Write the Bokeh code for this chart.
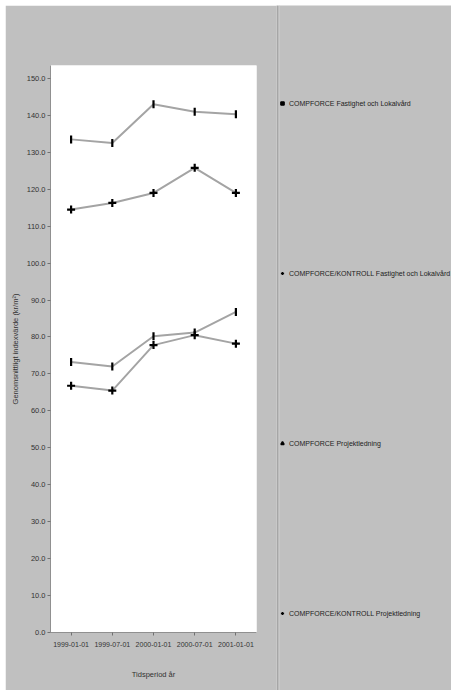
from bokeh.plotting import figure
from bokeh.models import FactorRange, Range1d, FixedTicker, NumeralTickFormatter, Legend, LegendItem, Span
from bokeh.layouts import row
from bokeh.embed import file_html
from bokeh.resources import INLINE
import math

# ---- data ----
periods = ["1999-01-01", "1999-07-01", "2000-01-01", "2000-07-01", "2001-01-01"]
series_names = [
    "COMPFORCE Fastighet och Lokalvård",
    "COMPFORCE/KONTROLL Fastighet och Lokalvård",
    "COMPFORCE Projektledning",
    "COMPFORCE/KONTROLL Projektledning",
]
s1 = [133.5, 132.5, 143.0, 141.0, 140.3]
s2 = [114.5, 116.3, 119.0, 125.8, 119.0]
s3 = [73.2, 72.0, 80.2, 81.2, 86.8]
s4 = [66.8, 65.5, 77.8, 80.5, 78.2]
y_ticks = [0, 10, 20, 30, 40, 50, 60, 70, 80, 90, 100, 110, 120, 130, 140, 150]
x_title = "Tidsperiod år"
y_title = "Genomsnittligt indexvärde (kr/m²)"

FONT = "Liberation Sans"
BG = "#c0c0c0"

p = figure(width=271, height=685, x_range=FactorRange(factors=periods),
           y_range=Range1d(0, 153.5), output_backend="svg", toolbar_location=None,
           min_border_left=45, min_border_right=20, min_border_top=60, min_border_bottom=58)
p.background_fill_color = "white"
p.border_fill_color = BG
p.outline_line_color = None
p.grid.visible = False

markers = ["dash", "cross", "dash", "cross"]
angles = [math.pi / 2, 0, math.pi / 2, 0]
all_series = [s1, s2, s3, s4]
for vals, mk, ang in zip(all_series, markers, angles):
    p.line(x=periods, y=vals, line_color="#a4a4a4", line_width=2)
    p.scatter(x=periods, y=vals, marker=mk, angle=ang, size=8,
              line_color="black", fill_color="black", line_width=2.2)

p.yaxis.ticker = FixedTicker(ticks=y_ticks)
p.yaxis.formatter = NumeralTickFormatter(format="0.0")
for ax in (p.xaxis[0], p.yaxis[0]):
    ax.major_label_text_font = FONT
    ax.major_label_text_color = "#333333"
    ax.axis_label_text_font = FONT
    ax.axis_label_text_font_size = "7.5px"
    ax.axis_label_text_font_style = "normal"
    ax.axis_label_text_color = "#333333"
    ax.axis_line_color = "#909090"
    ax.major_tick_line_color = "#707070"
    ax.minor_tick_line_color = None
    ax.major_tick_out = 3
    ax.major_tick_in = 0
p.xaxis.major_label_text_font_size = "7px"
p.yaxis.major_label_text_font_size = "7.5px"
p.yaxis.axis_label = y_title
p.yaxis.major_label_standoff = 2
p.yaxis.axis_label_standoff = 4
p.xaxis.axis_label = x_title
p.xaxis.major_label_standoff = 6
p.xaxis.axis_label_standoff = 20

# ---- legend panel ----
q = figure(width=175, height=685, x_range=Range1d(0, 1), y_range=Range1d(0, 1),
           output_backend="svg", toolbar_location=None,
           min_border_left=0, min_border_right=0, min_border_top=0, min_border_bottom=0)
aligned = True
try:
    q.frame_align = False
    aligned = False
except Exception:
    pass
q.background_fill_color = BG
q.border_fill_color = BG
q.outline_line_color = None
q.axis.visible = False
q.grid.visible = False
q.add_layout(Span(location=0.004, dimension="height", line_color="#a6a6a6", line_width=2))
q.add_layout(Span(location=0.016, dimension="height", line_color="#cacaca", line_width=1))

leg_markers = ["square", "cross", "triangle", "cross"]
items = []
for name, mk in zip(series_names, leg_markers):
    r = q.scatter(x=[-5], y=[-5], marker=mk, size=6, line_color="black", fill_color="black", line_width=1.5)
    items.append(LegendItem(label=name, renderers=[r]))
leg = Legend(items=items, location=(2, 14 if aligned else 72), spacing=160, padding=5,
             glyph_width=8, glyph_height=10, label_height=10, label_standoff=3,
             label_text_font=FONT, label_text_font_size="7px", label_text_color="#222222",
             background_fill_alpha=0, border_line_color=None)
q.add_layout(leg)

layout = row(p, q, spacing=0)
layout.margin = (5, 0, 0, 5)
open("out.html", "w").write(file_html(layout, INLINE))
